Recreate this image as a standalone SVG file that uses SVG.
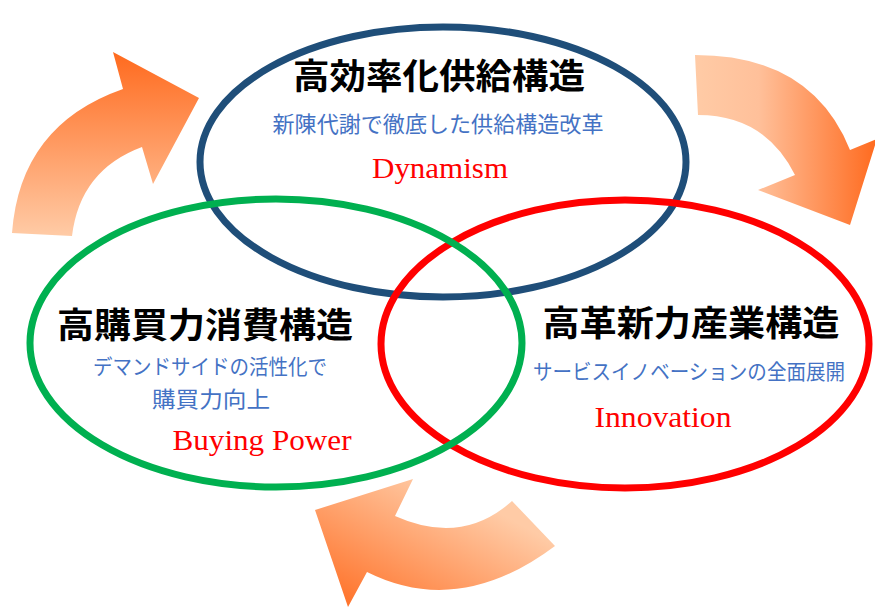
<svg xmlns="http://www.w3.org/2000/svg" width="875" height="608" viewBox="0 0 875 608">
<style>
.ell{fill:none;stroke-width:7}
.title{font-family:"Noto Sans CJK JP","Noto Sans",sans-serif;font-weight:bold;font-size:35px;fill:#000;text-anchor:middle}
.sub{font-family:"Noto Sans CJK JP","Noto Sans",sans-serif;font-size:21px;fill:#4472C4;text-anchor:middle}
.en{font-family:"Liberation Serif","Times New Roman",serif;font-size:30px;fill:#FF0000;text-anchor:middle}
</style>
<defs>
<linearGradient id="gA" x1="0" y1="1" x2="0" y2="0">
<stop offset="0" stop-color="#FFCBA6"/><stop offset="1" stop-color="#FF6A1E"/>
</linearGradient>
<linearGradient id="gB" x1="0" y1="0" x2="1" y2="0">
<stop offset="0" stop-color="#FFCBA6"/><stop offset="0.35" stop-color="#FFC09A"/><stop offset="1" stop-color="#FF6A1E"/>
</linearGradient>
<linearGradient id="gC" x1="0" y1="1" x2="1" y2="0">
<stop offset="0" stop-color="#FF6A1E"/><stop offset="0.75" stop-color="#FFCBA6"/><stop offset="1" stop-color="#FFCBA6"/>
</linearGradient>
</defs>
<rect width="875" height="608" fill="#fff"/>
<g id="connectors">
<path d="M 12 233 Q 20 125 123 89 L 113 52 L 199 98 L 153 184 L 142 147 Q 80 170 72 236 Z" fill="url(#gA)"/>
<path d="M 695 55 Q 812 55 850 150 L 877 139 L 850 225 L 758 190 L 795 175 Q 765 115 698 115 Z" fill="url(#gB)"/>
<path d="M 512 501 Q 462 546 395 516 L 413 479 L 315 510 L 348 607 L 367 572 Q 459 618 555 546 Z" fill="url(#gC)"/>
</g>
<g id="supply">
<ellipse class="ell" cx="443" cy="162" rx="243" ry="135" stroke="#1F4E79"/>
</g>
<g id="industry">
<ellipse class="ell" cx="625" cy="344" rx="244" ry="144" stroke="#FF0000"/>
</g>
<g id="consumption">
<ellipse class="ell" cx="276" cy="343" rx="246" ry="144" stroke="#00B050"/>
</g>
<g id="supply-text">
<text class="title" x="439" y="89" textLength="292" lengthAdjust="spacingAndGlyphs">高効率化供給構造</text>
<text class="sub" x="438" y="132" font-size="22" style="font-size:22px" textLength="331" lengthAdjust="spacingAndGlyphs">新陳代謝で徹底した供給構造改革</text>
<text class="en" x="440" y="178" textLength="136" lengthAdjust="spacingAndGlyphs">Dynamism</text>
</g>
<g id="consumption-text">
<text class="title" x="205" y="338" textLength="296" lengthAdjust="spacingAndGlyphs">高購買力消費構造</text>
<text class="sub" x="210" y="374" textLength="234" lengthAdjust="spacingAndGlyphs">デマンドサイドの活性化で</text>
<text class="sub" x="211" y="407" style="font-size:22px" textLength="118" lengthAdjust="spacingAndGlyphs">購買力向上</text>
<text class="en" x="262" y="450" textLength="179" lengthAdjust="spacingAndGlyphs">Buying Power</text>
</g>
<g id="industry-text">
<text class="title" x="691" y="336" textLength="297" lengthAdjust="spacingAndGlyphs">高革新力産業構造</text>
<text class="sub" x="689" y="379" textLength="312" lengthAdjust="spacingAndGlyphs">サービスイノベーションの全面展開</text>
<text class="en" x="663" y="427" textLength="137" lengthAdjust="spacingAndGlyphs">Innovation</text>
</g>
</svg>
